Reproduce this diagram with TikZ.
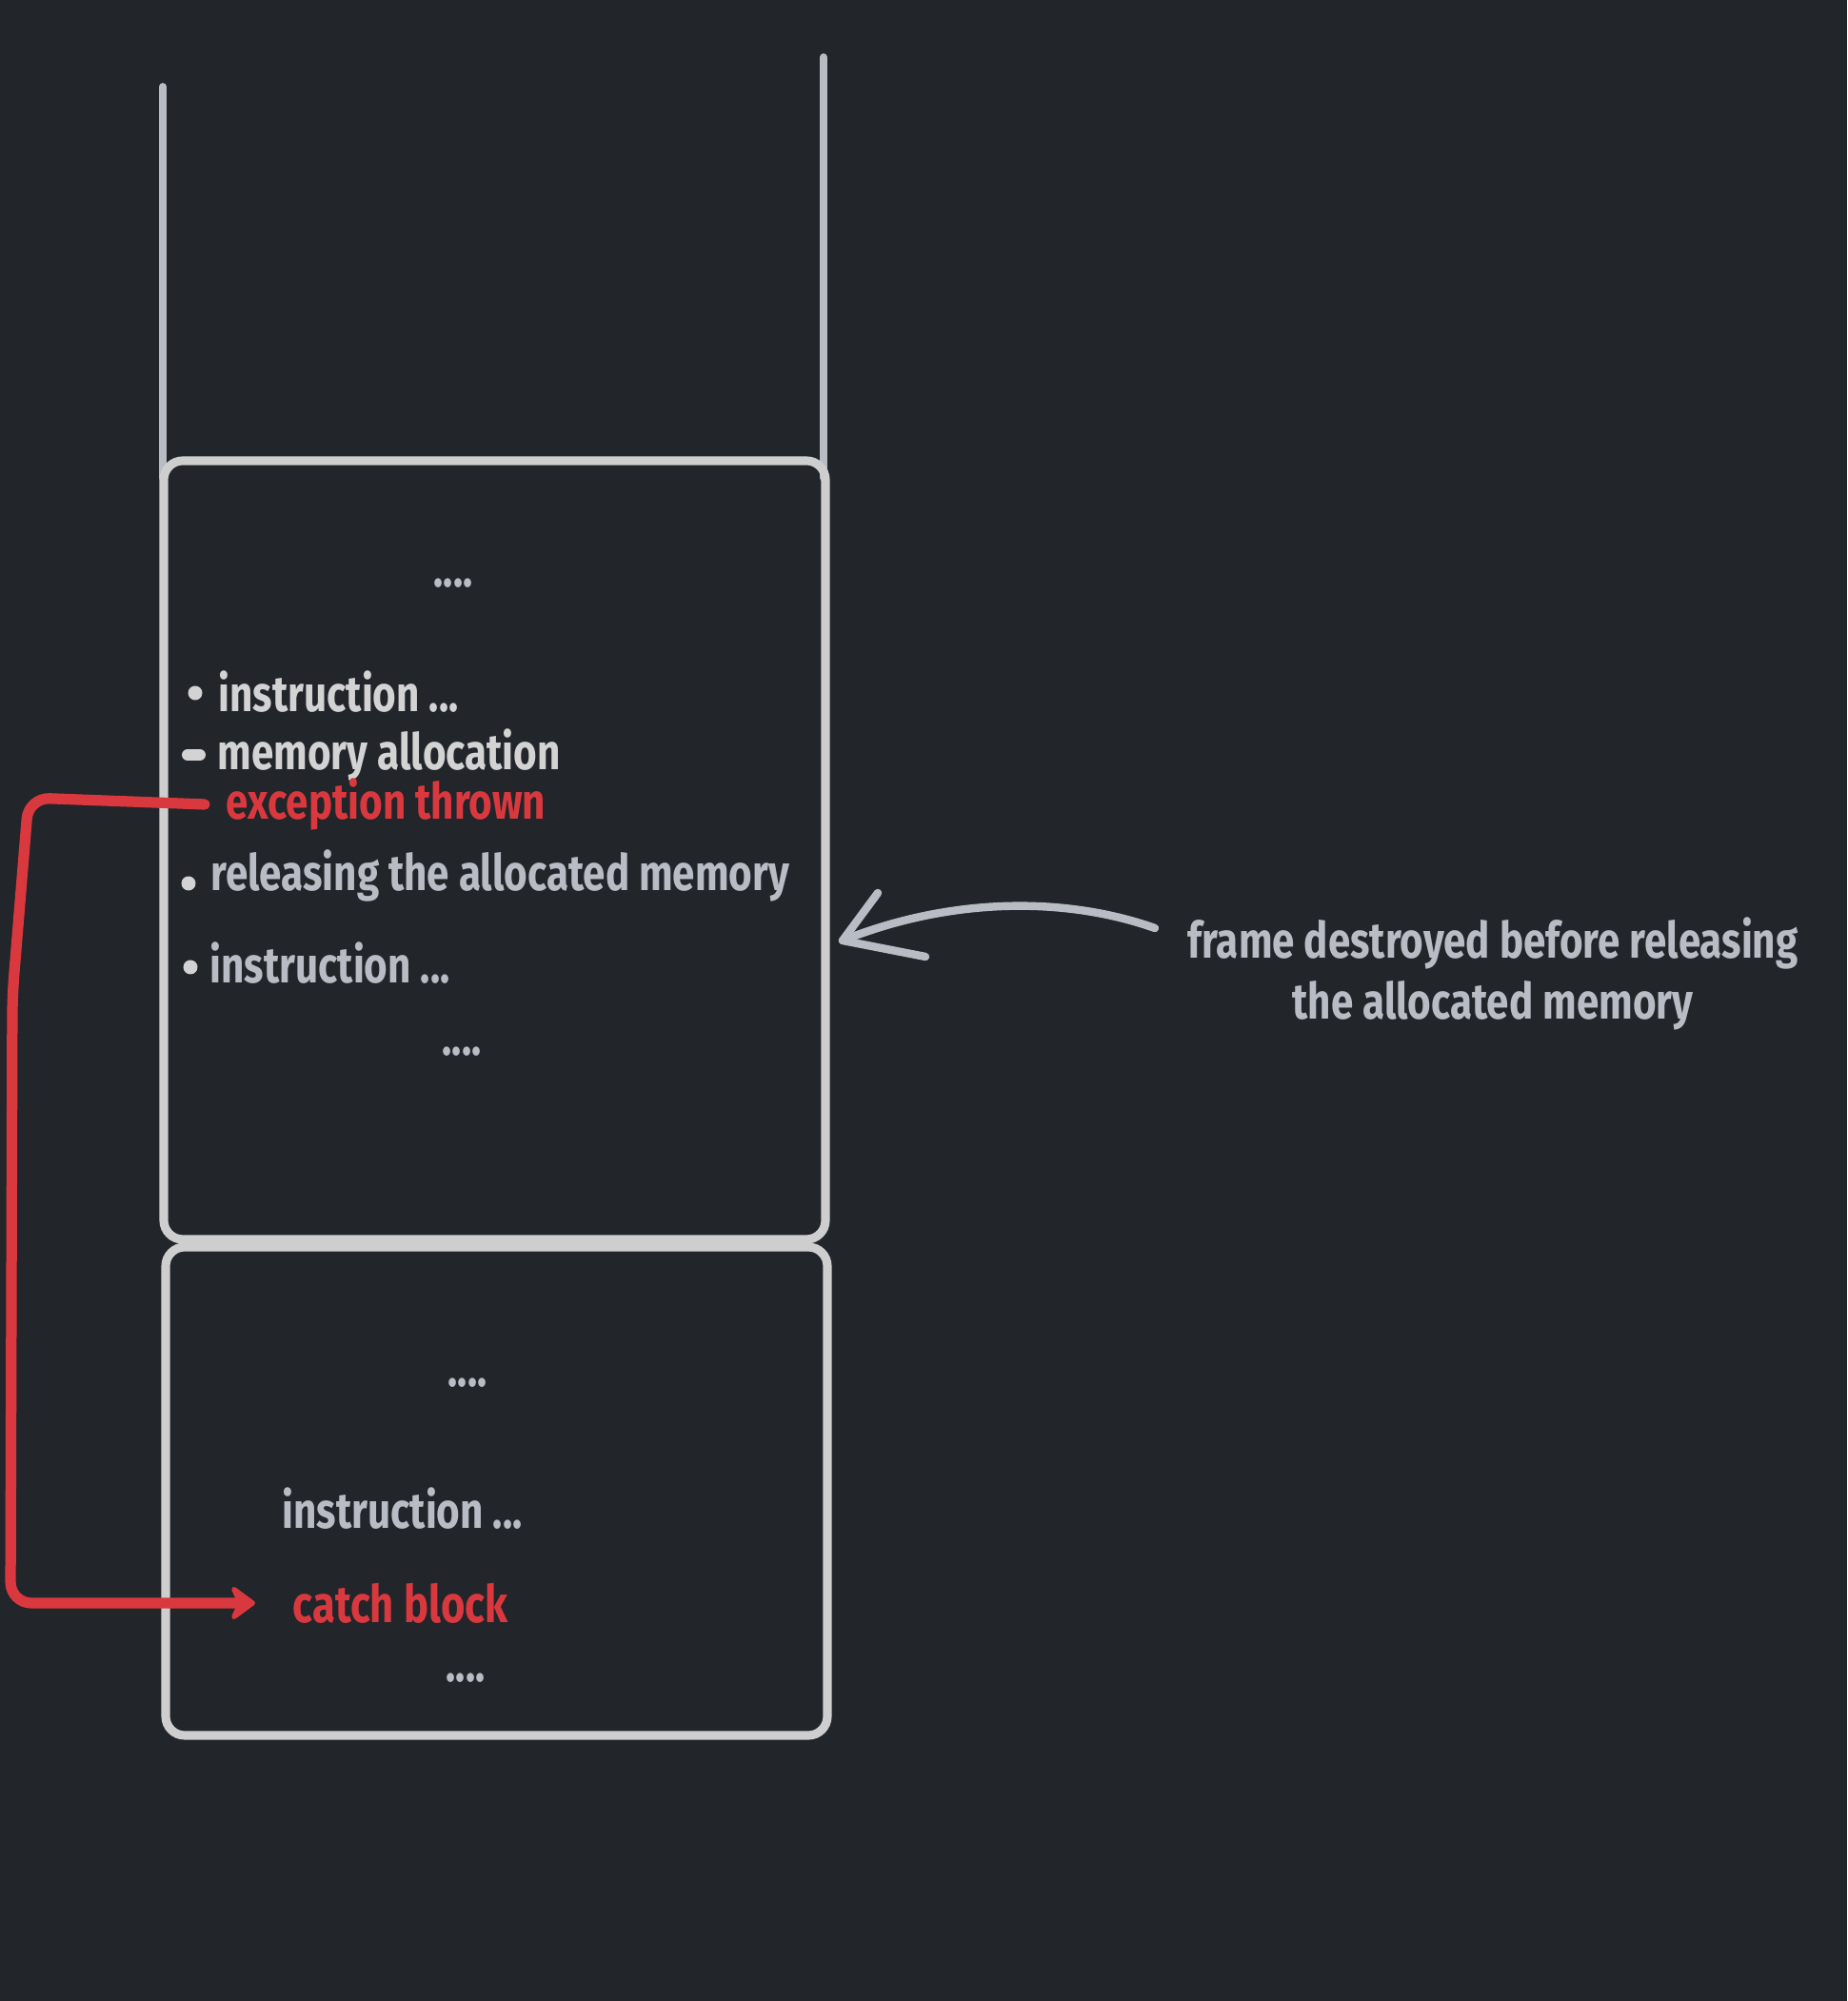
\documentclass[tikz,border=0pt]{standalone}
\usepackage{fontspec}
\setmainfont{Fira Sans}[FakeStretch=0.8]
\usetikzlibrary{arrows.meta}

\definecolor{bgdark}{RGB}{34,37,42}
\definecolor{framegray}{RGB}{206,206,206}
\definecolor{wallgray}{RGB}{184,189,196}
\definecolor{textlight}{RGB}{211,211,211}
\definecolor{textgray}{RGB}{184,188,196}
\definecolor{excred}{RGB}{217,57,62}

\begin{document}
\begin{tikzpicture}[
		frame/.style={framegray, line width=2.6pt, rounded corners=0.2cm},
		wall/.style={wallgray, line width=2.2pt, line cap=round},
		txt/.style={inner sep=0pt, anchor=west, font=\bfseries\fontsize{15}{18}\selectfont},
		dots/.style={inner sep=0pt, textgray, font=\bfseries\fontsize{15}{18}\selectfont},
		throwline/.style={excred, line width=3.2pt, line cap=round, line join=round},
		pointer/.style={textgray, line width=2.4pt, line cap=round, line join=round}]
	
	\def \radius{0.075}
	
	% BACKGROUND
	\fill[bgdark] (0,0) rectangle (19.40,21.02);
	
	% STACK WALLS
	\draw[wall] (1.71,20.11) -- (1.71,16.00);
	\draw[wall] (8.65,20.42) -- (8.65,16.00);
	
	% TOP FRAME
	\draw[frame] (1.72,8.00) rectangle (8.67,16.18);
	\node[dots] (dotsA) at (4.76,14.89) {....};
	
	\fill[textlight] (2.05,13.74) circle (\radius);
	\node[txt, textlight] (instrA) at (2.29,13.75) {instruction ...};
	
	\draw[textlight, line width=3.4pt, line cap=round] (1.97,13.09) -- (2.10,13.09);
	\node[txt, textlight] (memA) at (2.28,13.09) {memory allocation};
	
	\node[txt, excred] (exc) at (2.37,12.57) {exception thrown};
	
	\fill[textlight] (1.98,11.74) circle (\radius);
	\node[txt, textgray] (rel) at (2.21,11.82) {releasing the allocated memory};
	
	\fill[textlight] (2.00,10.86) circle (\radius);
	\node[txt, textgray] (instrB) at (2.20,10.90) {instruction ...};
	
	\node[dots] (dotsB) at (4.85,9.97) {....};
	
	% BOTTOM FRAME
	\draw[frame] (1.74,2.79) rectangle (8.69,7.92);
	\node[dots] (dotsC) at (4.91,6.49) {....};
	\node[txt, textgray] (instrC) at (2.96,5.17) {instruction ...};
	\node[txt, excred, font=\bfseries\fontsize{15.5}{18}\selectfont] (catch) at (3.07,4.18) {catch block};
	\node[dots] (dotsD) at (4.89,3.39) {....};
	
	% EXCEPTION JUMP
	\draw[throwline, rounded corners=0.22cm, -{Stealth[round, length=0.3cm, width=0.44cm]}]
		([xshift=-0.22cm]exc.west) -- (0.30,12.64) -- (0.13,10.56) -- (0.11,4.18) -- ([xshift=-0.39cm]catch.west);
	
	% NOTE
	\node[txt, textgray, anchor=center, align=center] (lbl) at (15.68,10.79) {frame destroyed before releasing\\the allocated memory};
	\coordinate (tail) at (12.13,11.27);
	\coordinate (tip) at (8.85,11.14);
	\draw[pointer] (tail) .. controls (11.2,11.6) and (10.0,11.6) .. (tip);
	\draw[pointer] (9.22,11.64) -- (tip) -- (9.72,10.97);
	
\end{tikzpicture}
\end{document}
